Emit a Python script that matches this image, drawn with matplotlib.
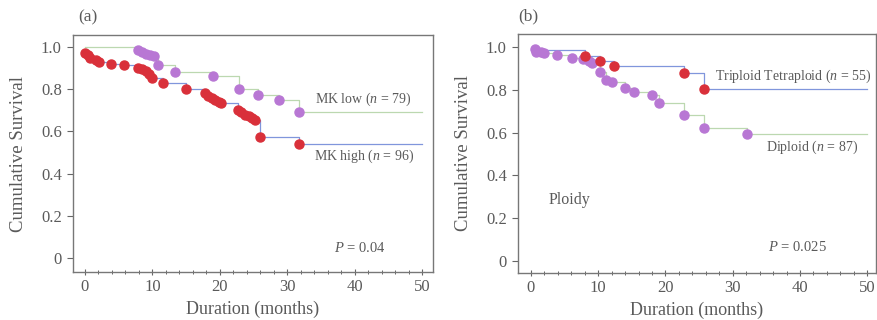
import matplotlib
matplotlib.use("Agg")
import matplotlib.pyplot as plt
from matplotlib.ticker import MultipleLocator, FixedLocator

# ---- data (a) ----
mk_high_t = [0, 0.4, 0.8, 1.7, 2.1, 3.9, 5.8, 7.8, 8.4, 9.0, 9.5, 10.0, 11.6, 15.0, 17.8, 18.3, 18.8, 19.3, 19.8, 20.2, 22.7, 23.2, 23.8, 24.3, 24.8, 25.2, 26.0, 31.7]
mk_high_s = [0.973, 0.96, 0.95, 0.94, 0.928, 0.92, 0.915, 0.90, 0.895, 0.885, 0.872, 0.851, 0.828, 0.80, 0.78, 0.77, 0.76, 0.75, 0.74, 0.733, 0.70, 0.69, 0.68, 0.672, 0.665, 0.655, 0.572, 0.54]
mk_low_t = [7.9, 8.5, 9.1, 9.6, 10.2, 10.9, 13.4, 19.0, 22.9, 25.6, 28.7, 31.7]
mk_low_s = [0.985, 0.975, 0.968, 0.962, 0.956, 0.915, 0.883, 0.862, 0.80, 0.773, 0.751, 0.693]

# ---- data (b) ----
dip_t = [0.6, 0.8, 1.5, 1.9, 3.9, 6.1, 7.8, 8.6, 9.1, 10.3, 11.1, 12.1, 14.0, 15.3, 18.0, 19.0, 22.7, 25.7, 32.1]
dip_s = [0.989, 0.975, 0.978, 0.97, 0.963, 0.948, 0.944, 0.933, 0.926, 0.885, 0.846, 0.838, 0.81, 0.79, 0.775, 0.74, 0.682, 0.62, 0.592]
tri_t = [8.1, 10.3, 12.3, 22.8, 25.8]
tri_s = [0.958, 0.936, 0.913, 0.877, 0.802]

x_ticks = [0, 10, 20, 30, 40, 50]
y_ticks = [0, 0.2, 0.4, 0.6, 0.8, 1.0]
y_labels = ["0", "0.2", "0.4", "0.6", "0.8", "1.0"]

RED = "#d9303a"
PURPLE = "#b877d4"
BLUE = "#8096dc"
GREEN = "#bcd8b0"
TXT = "#5a5a5a"

plt.rcParams["font.family"] = ["Liberation Serif", "DejaVu Serif"]
plt.rcParams["mathtext.fontset"] = "custom"
plt.rcParams["mathtext.it"] = "Liberation Serif:italic"
plt.rcParams["mathtext.rm"] = "Liberation Serif"
fig = plt.figure(figsize=(8.77, 3.2), dpi=100)

def curve(ax, t, s, start, lcolor, mcolor, tend=50):
    xs = [0] + list(t) + [tend]
    ys = [start] + list(s) + [s[-1]]
    ax.step(xs, ys, where="post", color=lcolor, lw=0.9, zorder=2)
    ax.plot(t, s, "o", color=mcolor, ms=6.5, mec=mcolor, zorder=3)

def style(ax, xlim, ylim):
    ax.set_xlim(*xlim)
    ax.set_ylim(*ylim)
    ax.xaxis.set_major_locator(FixedLocator(x_ticks))
    ax.xaxis.set_minor_locator(MultipleLocator(2))
    ax.set_yticks(y_ticks)
    ax.set_yticklabels(y_labels)
    ax.tick_params(axis="x", which="major", direction="inout", length=4, width=0.8, colors="#666666", labelsize=12, labelcolor=TXT, pad=3)
    ax.tick_params(axis="x", which="minor", direction="inout", length=2.5, width=0.7, colors="#666666")
    ax.tick_params(axis="y", which="major", direction="out", length=4, width=0.8, colors="#666666", labelsize=12, labelcolor=TXT, pad=4)
    for sp in ax.spines.values():
        sp.set_color("#777777")
        sp.set_linewidth(1.0)
    ax.set_xlabel("Duration (months)", fontsize=13, color=TXT, labelpad=4)
    ax.set_ylabel("Cumulative Survival", fontsize=13.5, color=TXT, labelpad=10)

# Panel (a)
axa = fig.add_axes([0.0832, 0.150, 0.4105, 0.7406])
curve(axa, mk_low_t, mk_low_s, 1.0, GREEN, PURPLE)
curve(axa, mk_high_t, mk_high_s, mk_high_s[0], BLUE, RED)
style(axa, (-1.78, 51.6), (-0.066, 1.057))
axa.text(41.2, 0.75, "MK low ($\\it{n}$ = 79)", fontsize=10, color=TXT, ha="center", va="center")
axa.text(41.4, 0.48, "MK high ($\\it{n}$ = 96)", fontsize=10, color=TXT, ha="center", va="center")
axa.text(40.8, 0.05, "$\\it{P}$ = 0.04", fontsize=10.5, color=TXT, ha="center", va="center")
fig.text(78 / 877, 1 - 17 / 320, "(a)", fontsize=12.5, color=TXT, ha="left", va="center")

# Panel (b)
axb = fig.add_axes([0.5906, 0.147, 0.4083, 0.747])
curve(axb, dip_t, dip_s, 0.99, GREEN, PURPLE)
curve(axb, tri_t, tri_s, 0.985, BLUE, RED)
style(axb, (-1.93, 51.3), (-0.056, 1.061))
axb.text(39.0, 0.864, "Triploid Tetraploid ($\\it{n}$ = 55)", fontsize=10, color=TXT, ha="center", va="center")
axb.text(41.8, 0.533, "Diploid ($\\it{n}$ = 87)", fontsize=10, color=TXT, ha="center", va="center")
axb.text(5.7, 0.285, "Ploidy", fontsize=11.5, color=TXT, ha="center", va="center")
axb.text(39.6, 0.065, "$\\it{P}$ = 0.025", fontsize=10.5, color=TXT, ha="center", va="center")
fig.text(518 / 877, 1 - 16 / 320, "(b)", fontsize=12.5, color=TXT, ha="left", va="center")

fig.savefig("out.png", dpi=100)
